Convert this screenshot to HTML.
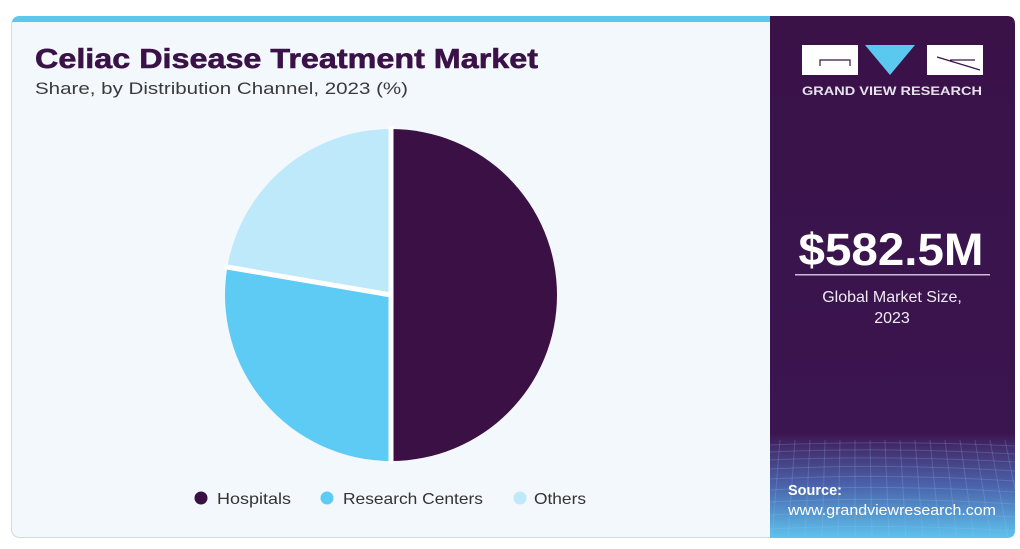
<!DOCTYPE html>
<html><head><meta charset="utf-8"><style>
html,body{margin:0;padding:0;background:#fff;}
body{width:1020px;height:549px;overflow:hidden;}
svg{display:block;}
</style></head><body>
<svg width="1020" height="549" viewBox="0 0 1020 549" xmlns="http://www.w3.org/2000/svg">
<defs>
<linearGradient id="pg" x1="0" y1="0" x2="0" y2="1">
<stop offset="0" stop-color="#3a1248"/>
<stop offset="0.80" stop-color="#3b1550"/>
<stop offset="0.83" stop-color="#443070"/>
<stop offset="0.90" stop-color="#4a63ac"/>
<stop offset="1" stop-color="#5ec3ee"/>
</linearGradient>
<clipPath id="pc"><path d="M770 16 H1007 Q1015 16 1015 24 V530 Q1015 538 1007 538 H770 Z"/></clipPath>
</defs>
<!-- card -->
<rect x="11.5" y="16.5" width="1000" height="521" rx="8" fill="#f3f8fc" stroke="#d4d8dc"/>
<path d="M12 24 Q12 16 20 16 H770 V22 H12 Z" fill="#5bc8f0"/>
<!-- right panel -->
<path d="M770 16 H1007 Q1015 16 1015 24 V530 Q1015 538 1007 538 H770 Z" fill="url(#pg)"/>
<g clip-path="url(#pc)" stroke="#9fc4ee" stroke-opacity="0.22" stroke-width="1" fill="none">
<path d="M770 445 Q890 440 1015 446"/><path d="M770 452 Q890 447 1015 454"/><path d="M770 460 Q890 455 1015 462"/>
<path d="M770 469 Q890 463 1015 471"/><path d="M770 479 Q890 473 1015 481"/><path d="M770 490 Q890 484 1015 492"/>
<path d="M770 502 Q890 496 1015 504"/><path d="M770 515 Q890 509 1015 517"/><path d="M770 529 Q890 523 1015 531"/>
<path d="M780 440 L772 538"/><path d="M795 440 L788 538"/><path d="M810 440 L805 538"/><path d="M825 440 L822 538"/>
<path d="M840 440 L838 538"/><path d="M855 440 L855 538"/><path d="M870 440 L872 538"/><path d="M885 440 L889 538"/>
<path d="M900 440 L906 538"/><path d="M915 440 L923 538"/><path d="M930 440 L940 538"/><path d="M945 440 L957 538"/>
<path d="M960 440 L974 538"/><path d="M975 440 L991 538"/><path d="M990 440 L1008 538"/><path d="M1005 440 L1025 538"/>
</g>
<!-- logo -->
<rect x="802" y="45" width="56" height="30" fill="#fff"/>
<path d="M820 66 V60 H850 V66" stroke="#3a1248" stroke-width="1.2" fill="none"/>
<polygon points="865,45 915,45 890,75" fill="#5bc8f0"/>
<rect x="927" y="45" width="56" height="30" fill="#fff"/>
<path d="M937 57 L980 70 M950 60 L975 60" stroke="#3a1248" stroke-width="1.2" fill="none"/>
<text x="892" y="95" text-anchor="middle" font-family="Liberation Sans, sans-serif" font-weight="bold" font-size="11.5" fill="#e6e2ec" textLength="180" lengthAdjust="spacingAndGlyphs">GRAND VIEW RESEARCH</text>
<!-- value -->
<text x="891" y="265" text-anchor="middle" font-family="Liberation Sans, sans-serif" font-weight="bold" font-size="45" fill="#fff" textLength="185" lengthAdjust="spacingAndGlyphs">$582.5M</text>
<rect x="795" y="274" width="195" height="1.5" fill="#c9bcd6"/>
<text x="892" y="302" text-anchor="middle" font-family="Liberation Sans, sans-serif" font-size="16" fill="#f0ecf4">Global Market Size,</text>
<text x="892" y="323" text-anchor="middle" font-family="Liberation Sans, sans-serif" font-size="16" fill="#f0ecf4">2023</text>
<!-- source -->
<text x="788" y="495" font-family="Liberation Sans, sans-serif" font-weight="bold" font-size="14.5" fill="#fff">Source:</text>
<text x="788" y="515" font-family="Liberation Sans, sans-serif" font-size="14.5" fill="#fff" textLength="208" lengthAdjust="spacingAndGlyphs">www.grandviewresearch.com</text>
<!-- titles -->
<text x="35" y="68" font-family="Liberation Sans, sans-serif" font-weight="bold" font-size="28" fill="#3a1248" stroke="#3a1248" stroke-width="0.6" textLength="503" lengthAdjust="spacingAndGlyphs">Celiac Disease Treatment Market</text>
<text x="35" y="94" font-family="Liberation Sans, sans-serif" font-size="17" fill="#3a3a3a" textLength="373" lengthAdjust="spacingAndGlyphs">Share, by Distribution Channel, 2023 (%)</text>
<!-- pie: center (391,295) r 166 -->
<path d="M391 295 L391 129 A166 166 0 0 1 391 461 Z" fill="#3a1045"/>
<path d="M391 295 L391 461 A166 166 0 0 1 227.4 267 Z" fill="#5ecbf5"/>
<path d="M391 295 L227.4 267 A166 166 0 0 1 391 129 Z" fill="#bde9fa"/>
<path d="M391 126 V464 M391 295 L224 266.5" stroke="#fff" stroke-width="5" fill="none"/>
<!-- legend -->
<circle cx="201" cy="498" r="6.5" fill="#3a1045"/>
<text x="217" y="504" font-family="Liberation Sans, sans-serif" font-size="16" fill="#333" textLength="74" lengthAdjust="spacingAndGlyphs">Hospitals</text>
<circle cx="327" cy="498" r="6.5" fill="#5ecbf5"/>
<text x="343" y="504" font-family="Liberation Sans, sans-serif" font-size="16" fill="#333" textLength="140" lengthAdjust="spacingAndGlyphs">Research Centers</text>
<circle cx="520" cy="498" r="6.5" fill="#bde9fa"/>
<text x="534" y="504" font-family="Liberation Sans, sans-serif" font-size="16" fill="#333" textLength="52" lengthAdjust="spacingAndGlyphs">Others</text>
</svg>
</body></html>
